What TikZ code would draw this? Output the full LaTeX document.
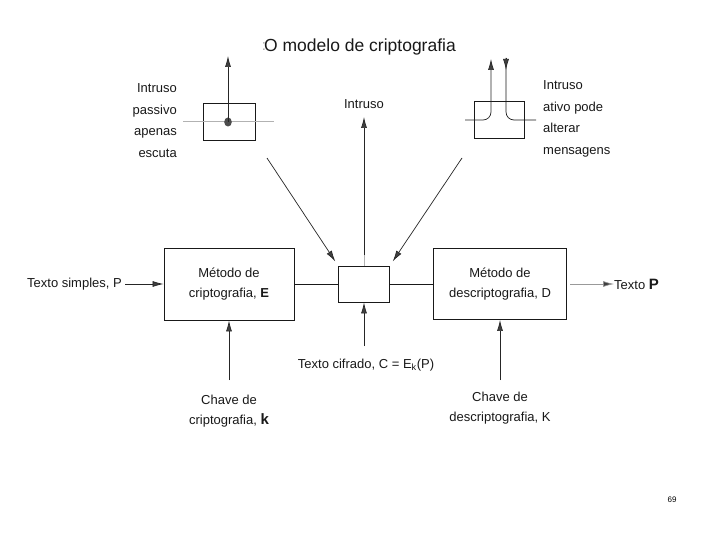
\documentclass[tikz,border=0pt]{standalone}
\usepackage{fontspec}
\setmainfont{Liberation Sans}
\usetikzlibrary{arrows.meta}
\begin{document}
\begin{tikzpicture}[x=1pt,y=-1pt,
  lbl/.style={font=\fontsize{13}{20}\selectfont, inner sep=0pt, text=black!90},
  side/.style={font=\fontsize{13}{21.5}\selectfont, inner sep=0pt, text=black!90},
  box/.style={draw=black!90, line width=0.9pt, inner sep=0pt, align=center},
  ln/.style={draw=black!90, line width=0.8pt},
  faint/.style={draw=black!30, line width=0.6pt},
  arr/.style={draw=black!85, line width=0.7pt, -{Latex[length=11pt,width=6pt,fill=black!75]}},
  farr/.style={draw=black!40, line width=0.6pt, -{Latex[length=11pt,width=6pt,fill=black!75]}}]
\useasboundingbox[fill=white] (0,0) rectangle (720,540);

% title
\node[inner sep=0pt, text=black!35, font=\fontsize{15}{18}\selectfont] (colon) at (264,47) {:};
\node[inner sep=0pt, font=\fontsize{17.5}{20}\selectfont, text=black!90] (title) at (360,47) {O modelo de criptografia};

% main boxes
\node[box, lbl, minimum width=130pt, minimum height=72pt] (E) at (229,284) {Método de\\criptografia, \textbf{E}};
\node[box, minimum width=51pt, minimum height=36pt] (C) at (364,284) {};
\node[box, lbl, minimum width=133pt, minimum height=71pt] (D) at (500,284) {Método de\\descriptografia, D};

\draw[ln] (E.east) -- (C.west);
\draw[ln] (C.east) -- (D.west);

% plaintext in / out
\node[lbl, anchor=east] (ts) at (122,284) {Texto simples, P};
\coordinate (tsa) at (125,284);
\draw[arr] (tsa) -- (E.west);
\node[lbl, anchor=west] (tp) at (614,284) {Texto {\fontsize{15}{18}\selectfont\textbf{P}}};
\coordinate (tpa) at (570,284);
\draw[farr] (tpa) -- (tp.west);

% keys
\node[lbl, align=center] (kE) at (229,411) {Chave de\\criptografia, {\fontsize{15}{18}\selectfont\textbf{k}}};
\coordinate (kEa) at (229,380);
\draw[arr] (kEa) -- (E.south);
\node[lbl, align=center] (kD) at (500,408) {Chave de\\descriptografia, K};
\coordinate (kDa) at (500,380);
\draw[arr] (kDa) -- (D.south);

% ciphertext
\node[lbl] (ct) at (366,365) {Texto cifrado, C = E$_{\mathrm{k}}$(P)};
\coordinate (cta) at (364,346);
\draw[arr] (cta) -- (C.south);

% intruder (center)
\node[lbl] (intr) at (364,104) {Intruso};
\coordinate (ia) at (364,255);
\coordinate (iat) at (364,117);
\draw[faint] (C.north) -- (ia);
\draw[arr] (ia) -- (iat);

% diagonals
\coordinate (dl) at (267,158);
\coordinate (dr) at (462,158);
\draw[arr, shorten >=5pt] (dl) -- (C.north west);
\draw[arr, shorten >=5pt] (dr) -- (C.north east);

% passive intruder
\node[box, minimum width=52pt, minimum height=37pt] (PB) at (229,122) {};
\coordinate (pl) at (183,121);
\coordinate (pr) at (274,121);
\draw[faint] (pl) -- (pr);
\fill[black!70] (228,122) ellipse (3.8pt and 4.5pt) coordinate (dot);
\coordinate (pt) at (228,56);
\draw[arr] (dot) -- (pt);
\node[side, anchor=east, align=right] (pL) at (177,120.5) {Intruso\\passivo\\apenas\\escuta};

% active intruder
\node[box, minimum width=50pt, minimum height=37pt] (AB) at (499,120) {};
\coordinate (al) at (465,120);
\coordinate (ac) at (491,120);
\coordinate (at1) at (491,59);
\draw[arr, rounded corners=8pt] (al) -- (ac) -- (at1);
\coordinate (ar) at (536,120);
\coordinate (bc) at (506,120);
\coordinate (bt) at (506,58);
\draw[ln, line width=0.7pt, rounded corners=8pt] (bt) -- (bc) -- (ar);
\coordinate (bt2) at (506,70);
\draw[arr] (bt) -- (bt2);
\node[side, anchor=west, align=left] (aL) at (543,119) {Intruso\\ativo pode\\alterar\\mensagens};

% page number
\node[inner sep=0pt, font=\fontsize{8}{10}\selectfont] (pg) at (672,500) {69};
\end{tikzpicture}
\end{document}
